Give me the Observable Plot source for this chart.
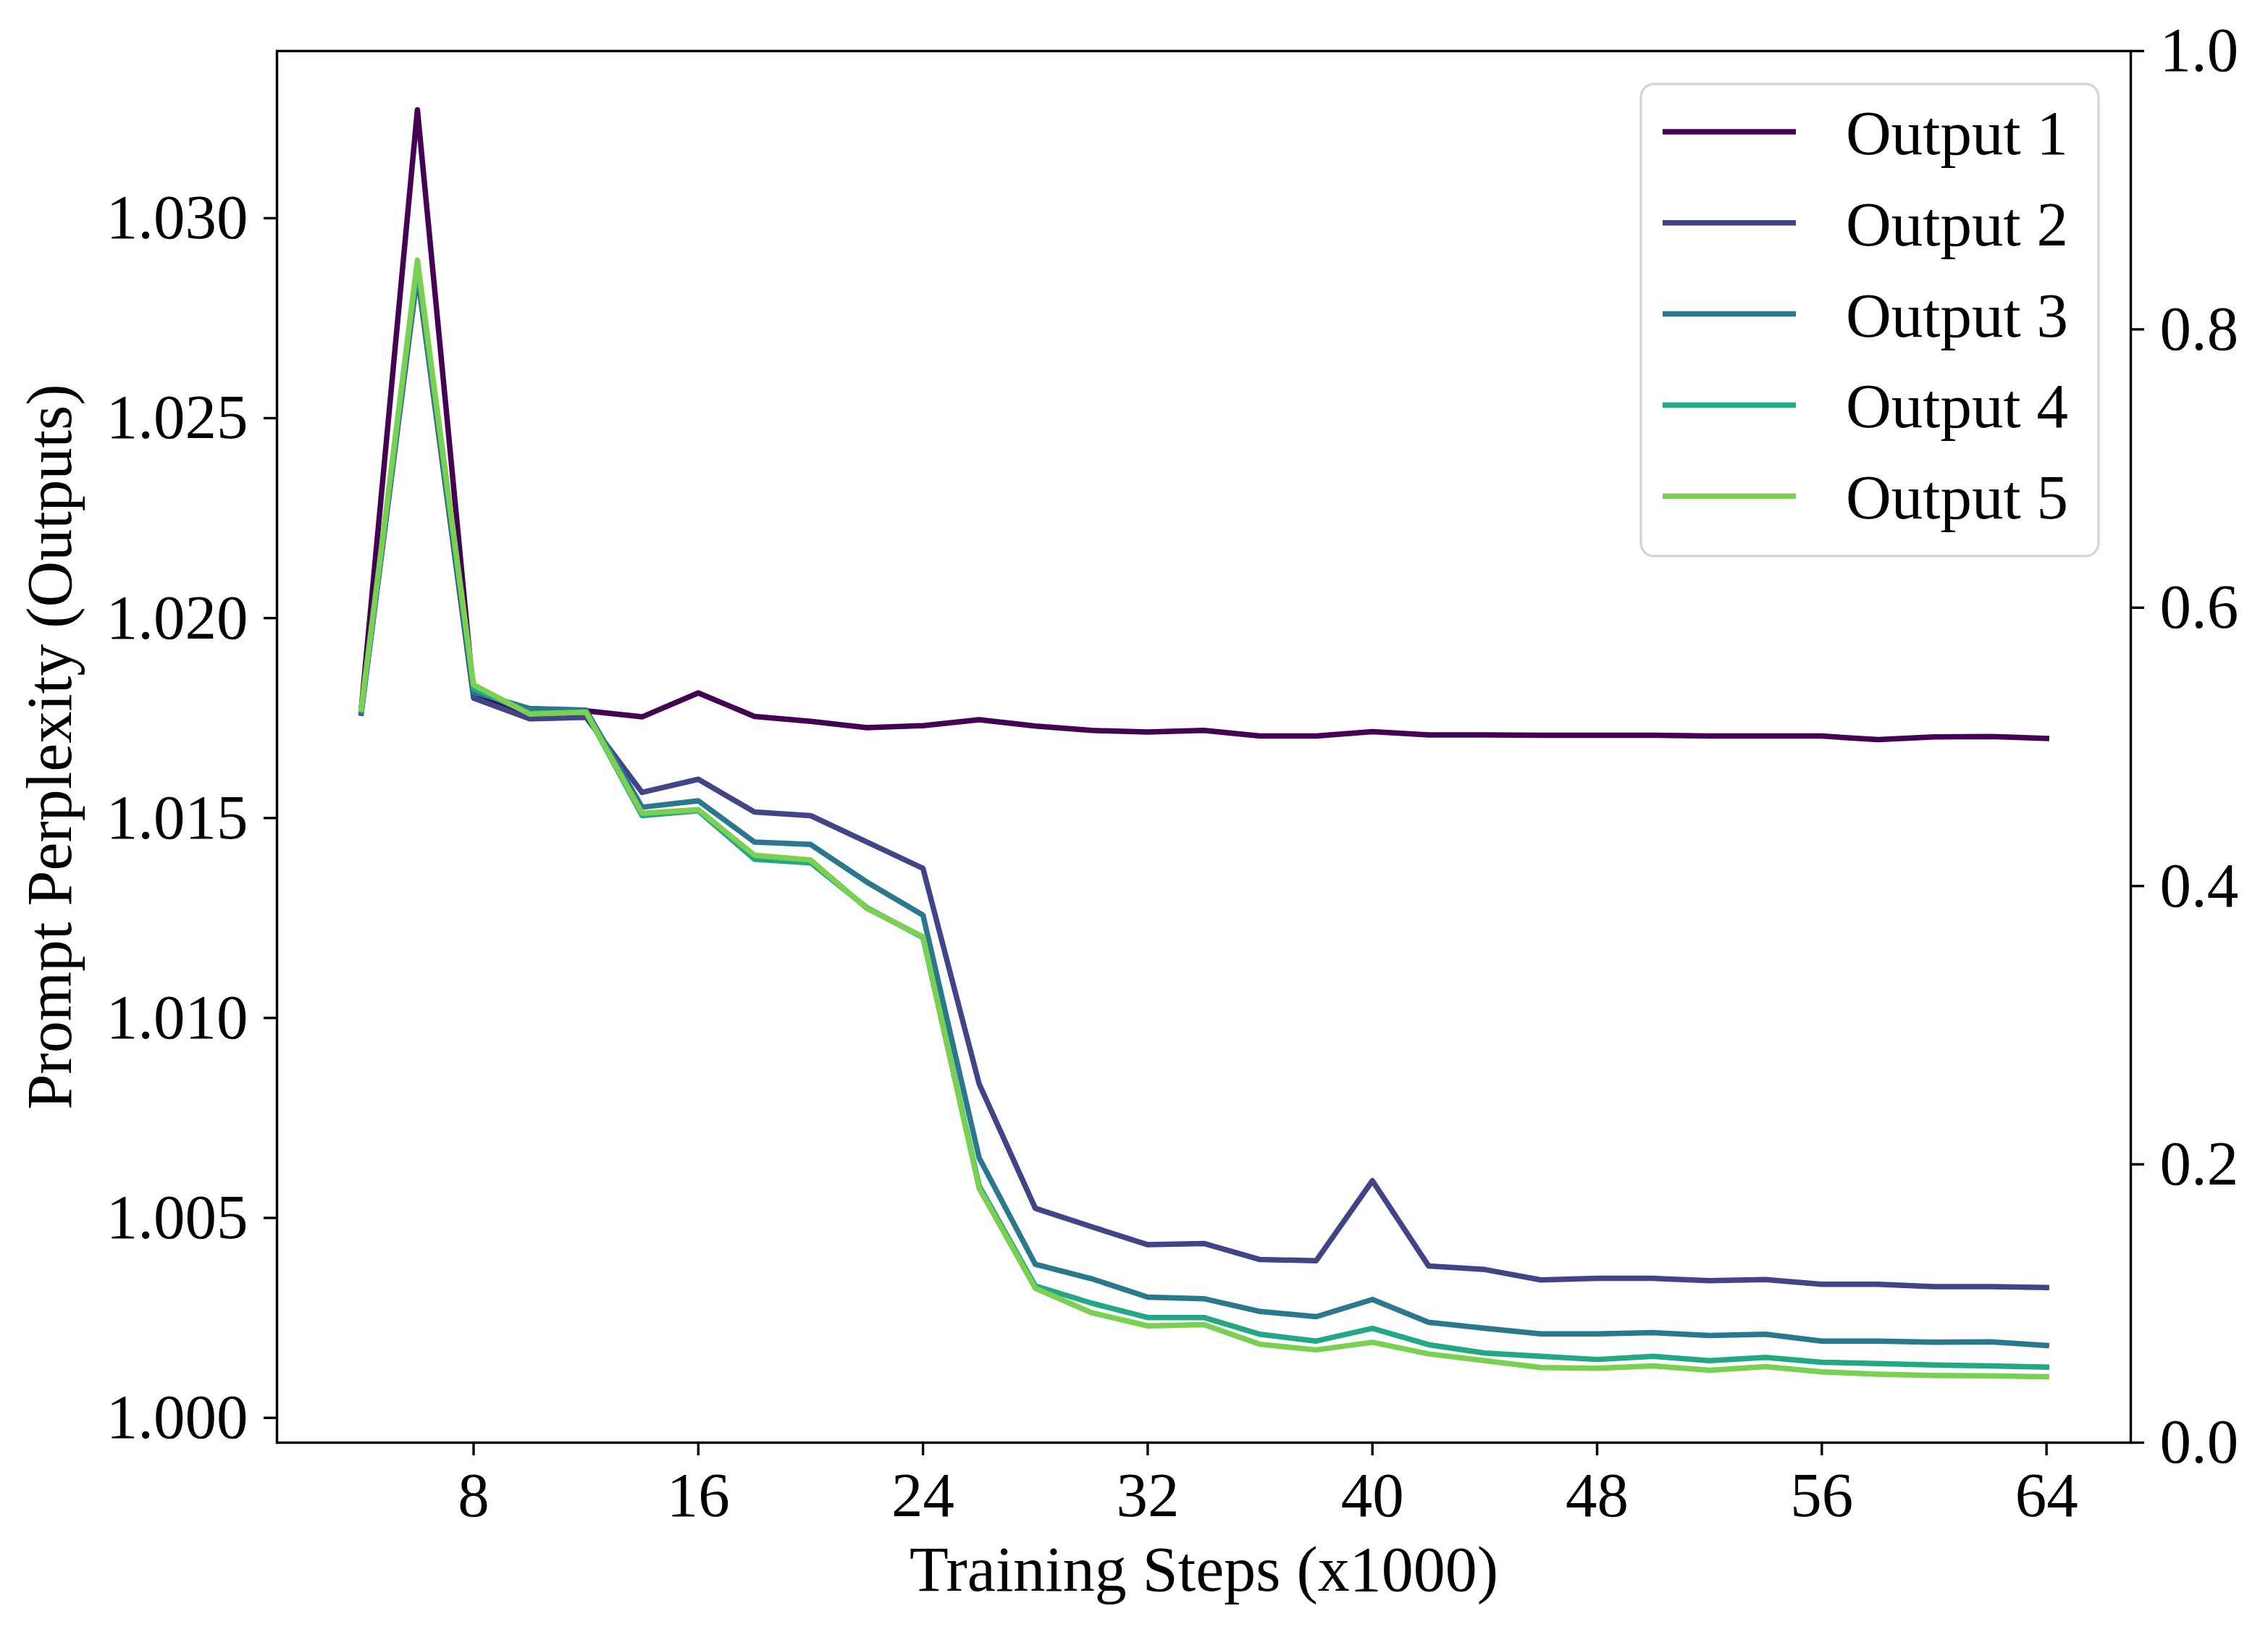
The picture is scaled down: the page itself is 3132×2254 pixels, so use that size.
<!DOCTYPE html>
<html>
<head>
<meta charset="utf-8">
<script src="https://cdn.jsdelivr.net/npm/d3@7"></script>
<script src="https://cdn.jsdelivr.net/npm/@observablehq/plot@0.6"></script>
<style>
  html, body { margin: 0; padding: 0; background: #ffffff; }
  #chart { width: 3132px; height: 2254px; }
</style>
</head>
<body>
<div id="chart"></div>
<script>
// ---------------- data ----------------
const steps = [4, 6, 8, 10, 12, 14, 16, 18, 20, 22, 24, 26, 28, 30, 32, 34, 36, 38, 40, 42, 44, 46, 48, 50, 52, 54, 56, 58, 60, 62, 64];

const out1 = [1.01771, 1.03271, 1.01807, 1.01762, 1.01768, 1.01753, 1.01813, 1.01754, 1.01742, 1.01726, 1.01731,
              1.01746, 1.01730, 1.01719, 1.01715, 1.01719, 1.01705, 1.01705, 1.01716, 1.01708, 1.01708, 1.01707,
              1.01707, 1.01707, 1.01705, 1.01705, 1.01705, 1.01696, 1.01703, 1.01704, 1.01699];
const out2 = [1.01762, 1.02860, 1.01800, 1.01748, 1.01752, 1.01564, 1.01597, 1.01515, 1.01506, 1.01440, 1.01374,
              1.00835, 1.00524, 1.00478, 1.00433, 1.00436, 1.00396, 1.00393, 1.00593, 1.00380, 1.00371, 1.00345,
              1.00349, 1.00349, 1.00343, 1.00346, 1.00334, 1.00334, 1.00328, 1.00328, 1.00326];
const out3 = [1.01766, 1.02870, 1.01815, 1.01774, 1.01770, 1.01527, 1.01543, 1.01440, 1.01434, 1.01340, 1.01257,
              1.00650, 1.00384, 1.00348, 1.00302, 1.00298, 1.00266, 1.00253, 1.00296, 1.00239, 1.00224, 1.00210,
              1.00210, 1.00213, 1.00206, 1.00209, 1.00192, 1.00192, 1.00189, 1.00190, 1.00181];
const out4 = [1.01770, 1.02880, 1.01824, 1.01762, 1.01765, 1.01506, 1.01518, 1.01397, 1.01388, 1.01276, 1.01201,
              1.00580, 1.00330, 1.00287, 1.00251, 1.00251, 1.00209, 1.00192, 1.00224, 1.00183, 1.00162, 1.00154,
              1.00146, 1.00154, 1.00143, 1.00151, 1.00139, 1.00136, 1.00132, 1.00130, 1.00127];
const out5 = [1.01772, 1.02895, 1.01833, 1.01760, 1.01765, 1.01512, 1.01521, 1.01407, 1.01395, 1.01274, 1.01203,
              1.00574, 1.00324, 1.00263, 1.00230, 1.00233, 1.00184, 1.00170, 1.00189, 1.00160, 1.00143, 1.00126,
              1.00124, 1.00130, 1.00119, 1.00128, 1.00115, 1.00109, 1.00106, 1.00105, 1.00103];

const seriesNames = ["Output 1", "Output 2", "Output 3", "Output 4", "Output 5"];
const seriesColors = ["#440154", "#414487", "#2a788e", "#22a884", "#7ad151"];

const xTicks = [8, 16, 24, 32, 40, 48, 56, 64];
const yTicks = [1.000, 1.005, 1.010, 1.015, 1.020, 1.025, 1.030];
const rightTicks = [0.0, 0.2, 0.4, 0.6, 0.8, 1.0];

const xLabel = "Training Steps (x1000)";
const yLabel = "Prompt Perplexity (Outputs)";

// ---------------- layout ----------------
const W = 3132, H = 2254;
const mL = 382, mR = 190, mT = 70, mB = 262;
const xDomain = [1, 67];
const yDomain = [0.99938, 1.03418];
const font = "'Liberation Serif', 'Times New Roman', Times, serif";
const fs = 87;
const lw = 7.5;

const rows = [];
[out1, out2, out3, out4, out5].forEach((arr, k) =>
  arr.forEach((v, i) => rows.push({step: steps[i], value: v, series: seriesNames[k]}))
);

// right axis (0..1) mapped onto the left y scale's domain
const toLeft = v => yDomain[0] + v * (yDomain[1] - yDomain[0]);
const fromLeft = d => (d - yDomain[0]) / (yDomain[1] - yDomain[0]);

const chart = Plot.plot({
  width: W,
  height: H,
  marginLeft: mL,
  marginRight: mR,
  marginTop: mT,
  marginBottom: mB,
  style: {fontFamily: font, fontSize: fs + "px", background: "#ffffff", color: "#000000", overflow: "visible"},
  x: {domain: xDomain},
  y: {domain: yDomain},
  color: {domain: seriesNames, range: seriesColors},
  marks: [
    Plot.line(rows, {x: "step", y: "value", stroke: "series", strokeWidth: lw,
                     strokeLinejoin: "round", strokeLinecap: "square"}),
    Plot.frame({stroke: "#000000", strokeWidth: 3.4}),
    Plot.axisX(xTicks, {anchor: "bottom", tickSize: 18, tickPadding: 22, strokeWidth: 3.4,
                        fontSize: fs, label: null, tickFormat: d => String(d)}),
    Plot.axisY(yTicks, {anchor: "left", tickSize: 18, tickPadding: 22, strokeWidth: 3.4,
                        fontSize: fs, label: null, tickFormat: d3.format(".3f")}),
    Plot.axisY(rightTicks.map(toLeft), {anchor: "right", tickSize: 18, tickPadding: 22, strokeWidth: 3.4,
                        fontSize: fs, label: null, tickFormat: d => fromLeft(d).toFixed(1)}),
    Plot.text([xLabel], {frameAnchor: "bottom", dy: 204, lineAnchor: "bottom", textAnchor: "middle",
                         fontSize: 88, text: d => d, fill: "#000000"}),
    Plot.text([yLabel], {frameAnchor: "left", dx: -285, rotate: -90, lineAnchor: "bottom", textAnchor: "middle",
                         fontSize: 88, text: d => d, fill: "#000000"})
  ]
});

document.getElementById("chart").appendChild(chart);

// ---------------- legend (inside the plot, upper right) ----------------
const svg = d3.select(chart);
const lg = svg.append("g").attr("class", "legend").attr("text-anchor", "start");
lg.append("rect")
  .attr("x", 2266).attr("y", 116).attr("width", 632).attr("height", 652)
  .attr("rx", 18).attr("ry", 18)
  .attr("fill", "#ffffff").attr("fill-opacity", 0.8)
  .attr("stroke", "#d6d6d6").attr("stroke-width", 3.4);
seriesNames.forEach((name, i) => {
  const y = 182 + i * 125.8;
  lg.append("line")
    .attr("x1", 2296).attr("x2", 2480).attr("y1", y).attr("y2", y)
    .attr("stroke", seriesColors[i]).attr("stroke-width", lw);
  lg.append("text")
    .attr("x", 2549).attr("y", y + 31)
    .attr("text-anchor", "start")
    .attr("font-family", font).attr("font-size", fs)
    .attr("fill", "#000000")
    .text(name);
});
</script>
</body>
</html>
